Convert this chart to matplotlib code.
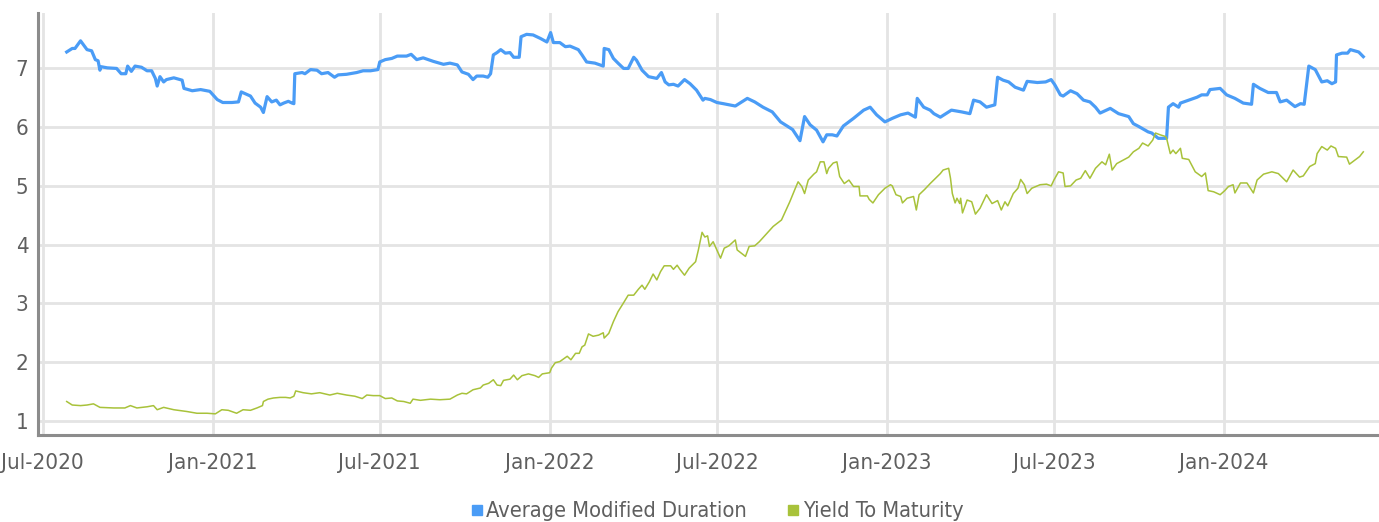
import pandas as pd
import matplotlib
matplotlib.use("Agg")
import matplotlib.pyplot as plt
from matplotlib.lines import Line2D

plt.rcParams['font.family'] = ['DejaVu Sans']
plt.rcParams['font.stretch'] = 'condensed'

# data: days since 2020-07-01 and value
start = pd.Timestamp('2020-07-01')

dur_days = [26, 32, 35, 41, 48, 53, 57, 60, 62, 63, 70, 80, 85, 90, 92, 96, 100, 107, 113, 118,
            122, 124, 127, 131, 134, 142, 151, 153, 162, 171, 181, 189, 195, 205, 212, 215, 225, 230, 236, 239,
            243, 248, 253, 257, 261, 266, 270, 272, 273, 281, 284, 290, 297, 302, 309, 316, 320, 329, 340, 347,
            355, 363, 365, 371, 378, 384, 394, 399, 405, 412, 423, 434, 441, 449, 454, 461, 466, 470, 477, 482,
            485, 488, 492, 496, 501, 506, 510, 516, 518, 524, 531, 539, 546, 550, 553, 560, 566, 571, 580, 584,
            589, 598, 607, 608, 613, 618, 623, 629, 634, 640, 643, 649, 656, 665, 670, 674, 678, 683, 688, 695,
            701, 708, 715, 717, 723, 730, 737, 750, 763, 771, 780, 790, 799, 806, 812, 820, 825, 831, 838, 845,
            849, 855, 860, 867, 878, 889, 896, 903, 912, 920, 929, 937, 945, 947, 954, 961, 965, 972, 984, 995,
            1004, 1008, 1015, 1022, 1031, 1034, 1040, 1046, 1053, 1062, 1066, 1077, 1086, 1092, 1096, 1102, 1105, 1113, 1120, 1127,
            1134, 1140, 1145, 1156, 1165, 1176, 1181, 1187, 1197, 1201, 1208, 1217, 1219, 1224, 1230, 1232, 1241, 1250, 1255, 1261,
            1264, 1275, 1282, 1291, 1300, 1309, 1311, 1318, 1327, 1336, 1340, 1347, 1356, 1362, 1366, 1371, 1378, 1385, 1391, 1396,
            1400, 1401, 1407, 1413, 1416, 1425, 1430]
dur_vals = [7.28, 7.34, 7.34, 7.47, 7.32, 7.30, 7.15, 7.13, 6.97, 7.03, 7.01, 7.00, 6.91, 6.91, 7.04, 6.95, 7.04, 7.02, 6.96, 6.96,
            6.83, 6.70, 6.86, 6.77, 6.81, 6.84, 6.80, 6.66, 6.62, 6.64, 6.61, 6.47, 6.42, 6.42, 6.43, 6.60, 6.53, 6.41, 6.34, 6.25,
            6.52, 6.43, 6.46, 6.38, 6.41, 6.44, 6.41, 6.40, 6.91, 6.93, 6.91, 6.98, 6.97, 6.91, 6.93, 6.85, 6.89, 6.90, 6.93, 6.96,
            6.96, 6.98, 7.11, 7.15, 7.17, 7.21, 7.21, 7.24, 7.15, 7.18, 7.12, 7.07, 7.09, 7.06, 6.94, 6.90, 6.81, 6.87, 6.87, 6.85,
            6.91, 7.23, 7.27, 7.32, 7.26, 7.27, 7.19, 7.19, 7.54, 7.58, 7.57, 7.51, 7.45, 7.61, 7.44, 7.44, 7.37, 7.38, 7.32, 7.23,
            7.11, 7.09, 7.04, 7.34, 7.32, 7.17, 7.09, 7.00, 7.00, 7.19, 7.14, 6.97, 6.86, 6.83, 6.93, 6.77, 6.72, 6.73, 6.70, 6.81,
            6.74, 6.63, 6.46, 6.49, 6.47, 6.42, 6.40, 6.36, 6.49, 6.43, 6.34, 6.26, 6.09, 6.02, 5.96, 5.77, 6.18, 6.04, 5.95, 5.75,
            5.87, 5.87, 5.85, 6.02, 6.15, 6.29, 6.34, 6.21, 6.09, 6.15, 6.21, 6.24, 6.17, 6.49, 6.34, 6.29, 6.23, 6.17, 6.29, 6.26,
            6.23, 6.46, 6.43, 6.34, 6.38, 6.85, 6.80, 6.77, 6.68, 6.63, 6.78, 6.76, 6.77, 6.81, 6.72, 6.55, 6.53, 6.62, 6.57, 6.46,
            6.43, 6.34, 6.24, 6.32, 6.23, 6.18, 6.06, 6.01, 5.92, 5.90, 5.81, 5.81, 6.34, 6.40, 6.34, 6.41, 6.46, 6.51, 6.55, 6.55,
            6.64, 6.66, 6.55, 6.49, 6.41, 6.39, 6.73, 6.66, 6.59, 6.59, 6.43, 6.46, 6.35, 6.40, 6.39, 7.04, 6.98, 6.77, 6.79, 6.74,
            6.77, 7.23, 7.26, 7.26, 7.32, 7.28, 7.20]

ytm_days = [26, 32, 41, 48, 55, 62, 77, 89, 95, 102, 113, 120, 124, 131, 142, 156, 167, 178, 187, 194,
            201, 210, 217, 225, 232, 238, 239, 244, 250, 257, 263, 268, 272, 274, 282, 291, 300, 311, 319, 329,
            338, 346, 351, 358, 365, 371, 378, 384, 391, 398, 401, 409, 420, 430, 441, 449, 454, 459, 466, 474,
            477, 483, 488, 492, 496, 499, 506, 510, 514, 519, 526, 533, 537, 541, 549, 551, 555, 560, 568, 572,
            577, 581, 584, 587, 591, 596, 602, 607, 608, 613, 618, 623, 629, 634, 640, 645, 649, 652, 657, 661,
            665, 669, 673, 680, 683, 687, 690, 695, 700, 707, 710, 714, 717, 720, 722, 726, 730, 734, 738, 743,
            750, 752, 761, 765, 771, 776, 784, 791, 800, 805, 809, 815, 818, 822, 825, 829, 835, 838, 842, 846,
            849, 851, 856, 860, 863, 868, 873, 878, 884, 885, 893, 895, 899, 905, 912, 918, 920, 924, 929, 931,
            936, 943, 946, 949, 955, 961, 972, 975, 981, 983, 985, 988, 990, 993, 994, 996, 1001, 1006, 1010, 1015,
            1022, 1028, 1034, 1038, 1042, 1045, 1051, 1056, 1059, 1063, 1066, 1071, 1080, 1087, 1092, 1095, 1100, 1105, 1107, 1113,
            1119, 1124, 1129, 1134, 1140, 1147, 1151, 1155, 1158, 1163, 1176, 1181, 1187, 1191, 1197, 1202, 1205, 1210, 1216, 1217,
            1221, 1224, 1227, 1232, 1234, 1241, 1248, 1255, 1259, 1262, 1268, 1275, 1280, 1284, 1289, 1291, 1297, 1304, 1311, 1315,
            1322, 1331, 1338, 1347, 1354, 1361, 1365, 1372, 1378, 1380, 1385, 1391, 1395, 1400, 1403, 1412, 1415, 1421, 1426, 1430]
ytm_vals = [1.33, 1.27, 1.26, 1.27, 1.29, 1.23, 1.22, 1.22, 1.26, 1.22, 1.24, 1.26, 1.19, 1.23, 1.19, 1.16, 1.13, 1.13, 1.12, 1.19,
            1.18, 1.13, 1.19, 1.18, 1.22, 1.26, 1.33, 1.37, 1.39, 1.40, 1.40, 1.39, 1.42, 1.51, 1.48, 1.46, 1.48, 1.44, 1.47, 1.44,
            1.42, 1.38, 1.44, 1.43, 1.43, 1.38, 1.39, 1.34, 1.33, 1.30, 1.37, 1.35, 1.37, 1.36, 1.37, 1.44, 1.47, 1.46, 1.53, 1.56,
            1.61, 1.64, 1.70, 1.61, 1.60, 1.69, 1.71, 1.78, 1.70, 1.77, 1.80, 1.77, 1.74, 1.80, 1.82, 1.90, 1.99, 2.01, 2.10, 2.04,
            2.15, 2.15, 2.26, 2.29, 2.48, 2.44, 2.46, 2.50, 2.41, 2.49, 2.69, 2.86, 3.01, 3.14, 3.14, 3.24, 3.31, 3.24, 3.37, 3.50,
            3.40, 3.54, 3.64, 3.64, 3.58, 3.65, 3.58, 3.48, 3.60, 3.71, 3.91, 4.21, 4.13, 4.15, 3.97, 4.05, 3.91, 3.77, 3.94, 3.98,
            4.08, 3.91, 3.80, 3.97, 3.98, 4.05, 4.19, 4.31, 4.42, 4.59, 4.73, 4.96, 5.07, 4.99, 4.87, 5.10, 5.20, 5.24, 5.41, 5.41,
            5.21, 5.30, 5.39, 5.41, 5.16, 5.04, 5.10, 4.99, 4.99, 4.83, 4.83, 4.77, 4.71, 4.85, 4.96, 5.02, 5.00, 4.85, 4.82, 4.71,
            4.79, 4.82, 4.59, 4.85, 4.94, 5.04, 5.21, 5.27, 5.30, 5.13, 4.87, 4.71, 4.79, 4.70, 4.79, 4.54, 4.76, 4.73, 4.52, 4.62,
            4.85, 4.70, 4.75, 4.59, 4.73, 4.66, 4.87, 4.96, 5.11, 5.02, 4.87, 4.96, 5.02, 5.03, 5.00, 5.10, 5.24, 5.22, 4.99, 5.00,
            5.10, 5.13, 5.26, 5.13, 5.30, 5.41, 5.36, 5.54, 5.27, 5.38, 5.49, 5.58, 5.64, 5.73, 5.68, 5.78, 5.90, 5.87, 5.84, 5.81,
            5.55, 5.61, 5.55, 5.64, 5.47, 5.45, 5.24, 5.16, 5.22, 4.92, 4.90, 4.85, 4.92, 4.99, 5.02, 4.88, 5.05, 5.05, 4.88, 5.10,
            5.20, 5.24, 5.21, 5.07, 5.27, 5.15, 5.17, 5.33, 5.38, 5.55, 5.67, 5.61, 5.68, 5.64, 5.50, 5.49, 5.37, 5.44, 5.50, 5.58]

tick_dates = ['2020-07-01', '2021-01-01', '2021-07-01', '2022-01-01', '2022-07-01',
              '2023-01-01', '2023-07-01', '2024-01-01']
tick_labels = ['Jul-2020', 'Jan-2021', 'Jul-2021', 'Jan-2022', 'Jul-2022',
               'Jan-2023', 'Jul-2023', 'Jan-2024']
y_ticks = [1, 2, 3, 4, 5, 6, 7]

blue = '#4a9cf6'
green = '#a8c23a'
text_col = '#5f5f5f'

dur_dates = start + pd.to_timedelta(dur_days, unit='D')
ytm_dates = start + pd.to_timedelta(ytm_days, unit='D')

fig = plt.figure(figsize=(13.79, 5.22), dpi=100)
ax = fig.add_axes([0.0276, 0.1667, 0.9724, 0.808])

ax.plot(dur_dates, dur_vals, color=blue, lw=2.3, solid_joinstyle='round', zorder=3)
ax.plot(ytm_dates, ytm_vals, color=green, lw=1.1, zorder=3)

ax.set_xlim(pd.Timestamp('2020-06-26'), pd.Timestamp('2024-06-17'))
ax.set_ylim(0.76, 7.94)

ax.set_xticks(pd.to_datetime(tick_dates))
ax.set_xticklabels(tick_labels)
ax.set_yticks(y_ticks)

ax.grid(True, color='#e4e4e4', lw=2)
ax.set_axisbelow(True)
for s in ['top', 'right']:
    ax.spines[s].set_visible(False)
for s in ['left', 'bottom']:
    ax.spines[s].set_color('#8c8c8c')
    ax.spines[s].set_linewidth(2.2)

ax.tick_params(axis='both', length=0, colors=text_col, labelsize=16)
ax.tick_params(axis='x', pad=13)
ax.tick_params(axis='y', pad=7)

handles = [Line2D([], [], ls='none', marker='s', ms=7.5, color=blue),
           Line2D([], [], ls='none', marker='s', ms=7.5, color=green)]
fig.legend(handles, ['Average Modified Duration', 'Yield To Maturity'],
           loc='lower center', bbox_to_anchor=(0.519, -0.036), ncol=2, frameon=False,
           fontsize=15.7, labelcolor=text_col, handletextpad=0.05, columnspacing=1.7,
           handlelength=0.8)

fig.savefig('out.png', dpi=100)
